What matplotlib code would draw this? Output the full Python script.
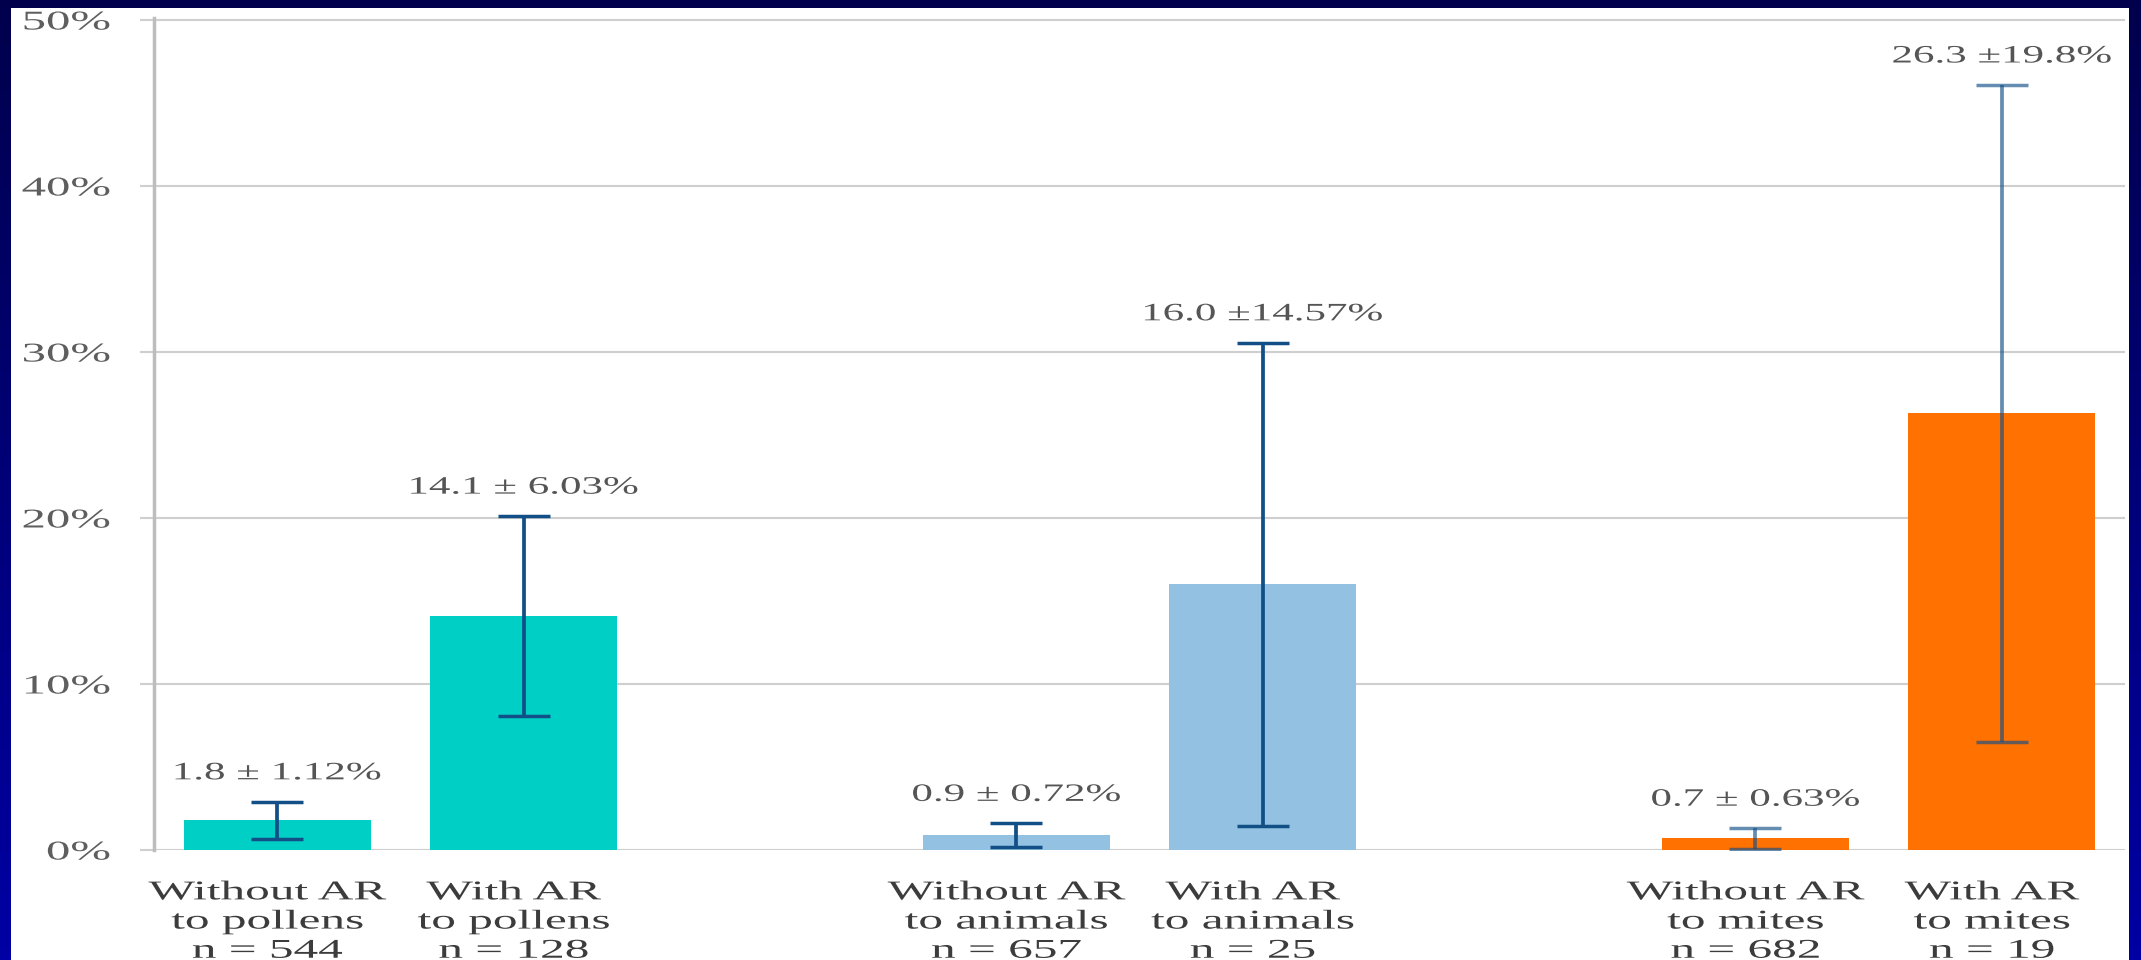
import numpy as np
import matplotlib
matplotlib.use("Agg")
import matplotlib.pyplot as plt
from matplotlib.patheffects import AbstractPathEffect
from matplotlib.transforms import Affine2D
from matplotlib.colors import LinearSegmentedColormap
from matplotlib.patches import Rectangle

# ---- data -------------------------------------------------------------
groups = ["pollens", "animals", "mites"]
conditions = ["Without AR", "With AR"]
sample_sizes = [544, 128, 657, 25, 682, 19]
means = [1.8, 14.1, 0.9, 16.0, 0.7, 26.3]          # %
errors = [1.12, 6.03, 0.72, 14.57, 0.63, 19.8]     # %
y_ticks = [0, 10, 20, 30, 40, 50]
y_tick_labels = ["0%", "10%", "20%", "30%", "40%", "50%"]

# ---- styles -----------------------------------------------------------
group_colors = ["#00CFC5", "#92C1E1", "#FF7100"]
err_alpha = [1.0, 1.0, 0.65]
pm_gap = [" ", " ", " ", "", " ", ""]
err_color = "#124F87"
grid_color = "#CFCFCF"

plt.rcParams["font.family"] = ["Liberation Serif", "DejaVu Serif"]


class Widen(AbstractPathEffect):
    """Stretch glyph outlines horizontally about the line's anchor."""

    def __init__(self, factor, anchor="center"):
        super().__init__()
        self.factor = factor
        self.anchor = anchor

    def draw_path(self, renderer, gc, tpath, affine, rgbFace=None):
        box = tpath.get_extents(affine)
        if self.anchor == "right":
            x0 = box.x1
        elif self.anchor == "left":
            x0 = box.x0
        else:
            x0 = 0.5 * (box.x0 + box.x1)
        widen = Affine2D().translate(-x0, 0).scale(self.factor, 1).translate(x0, 0)
        renderer.draw_path(gc, tpath, affine + widen, rgbFace)


W, H, DPI = 2141, 960, 100
fig = plt.figure(figsize=(W / DPI, H / DPI), dpi=DPI)

# navy slide frame with a vertical gradient and a white panel inside
bg = fig.add_axes([0, 0, 1, 1], zorder=0)
bg.set_axis_off()
frame_cmap = LinearSegmentedColormap.from_list("frame", ["#00004C", "#0000A4"])
bg.imshow(np.linspace(0, 1, 256).reshape(-1, 1), cmap=frame_cmap,
          aspect="auto", extent=(0, 1, 0, 1), origin="upper")
bg.add_patch(Rectangle((11 / W, 0), (2129 - 11) / W, (H - 8) / H,
                       transform=bg.transAxes, facecolor="white",
                       edgecolor="none"))
bg.set_xlim(0, 1)
bg.set_ylim(0, 1)

# main plot area
left_px, right_px, zero_px, top_px = 154, 2125, 850, 18.3
ax = fig.add_axes([left_px / W, (H - zero_px) / H,
                   (right_px - left_px) / W, (zero_px - top_px) / H], zorder=1)
ax.set_facecolor("none")

n_cond = len(conditions)
positions = [g * (n_cond + 1) + c for g in range(len(groups)) for c in range(n_cond)]
bar_colors = [group_colors[g] for g in range(len(groups)) for _ in range(n_cond)]

ax.bar(positions, means, width=0.76, color=bar_colors, edgecolor="none", zorder=2)

for i, (x, m, e) in enumerate(zip(positions, means, errors)):
    ax.errorbar(x, m, yerr=e, fmt="none", ecolor=err_color, elinewidth=2.7,
                capsize=18.7, capthick=2.5, alpha=err_alpha[i // n_cond], zorder=3)
    label = f"{m:.1f} \u00b1{pm_gap[i]}{e:g}%"
    t = ax.text(x, m + e + 1.7, label, ha="center", va="center",
                fontsize=18, color="#555555", zorder=4)
    t.set_path_effects([Widen(1.72)])

# category labels under the bars
cat_labels = [f"{conditions[c]}\nto {groups[g]}\nn = {sample_sizes[g * n_cond + c]}"
              for g in range(len(groups)) for c in range(n_cond)]
for x, lab in zip(positions, cat_labels):
    t = ax.text(x - 0.04, -4.34, lab, ha="center", va="center", fontsize=19.5,
                color="#3C3C3C", linespacing=1.22, clip_on=False)
    t.set_path_effects([Widen(1.82)])

ax.set_xlim(-0.5, positions[-1] + 0.5)
ax.set_ylim(0, 50.1)
ax.set_xticks([])
ax.set_yticks(y_ticks, y_tick_labels)
ax.tick_params(axis="y", length=10, width=1.5, color=grid_color, pad=21.6,
               labelsize=19.5, labelcolor="#5E5E5E")
for lbl in ax.get_yticklabels():
    lbl.set_path_effects([Widen(1.8, "right")])

ax.set_axisbelow(True)
ax.yaxis.grid(True, color=grid_color, linewidth=1.5)
for side in ("top", "right", "bottom"):
    ax.spines[side].set_visible(False)
ax.spines["left"].set_color("#BDBDBD")
ax.spines["left"].set_linewidth(2.5)

fig.savefig("out.png", dpi=DPI)
